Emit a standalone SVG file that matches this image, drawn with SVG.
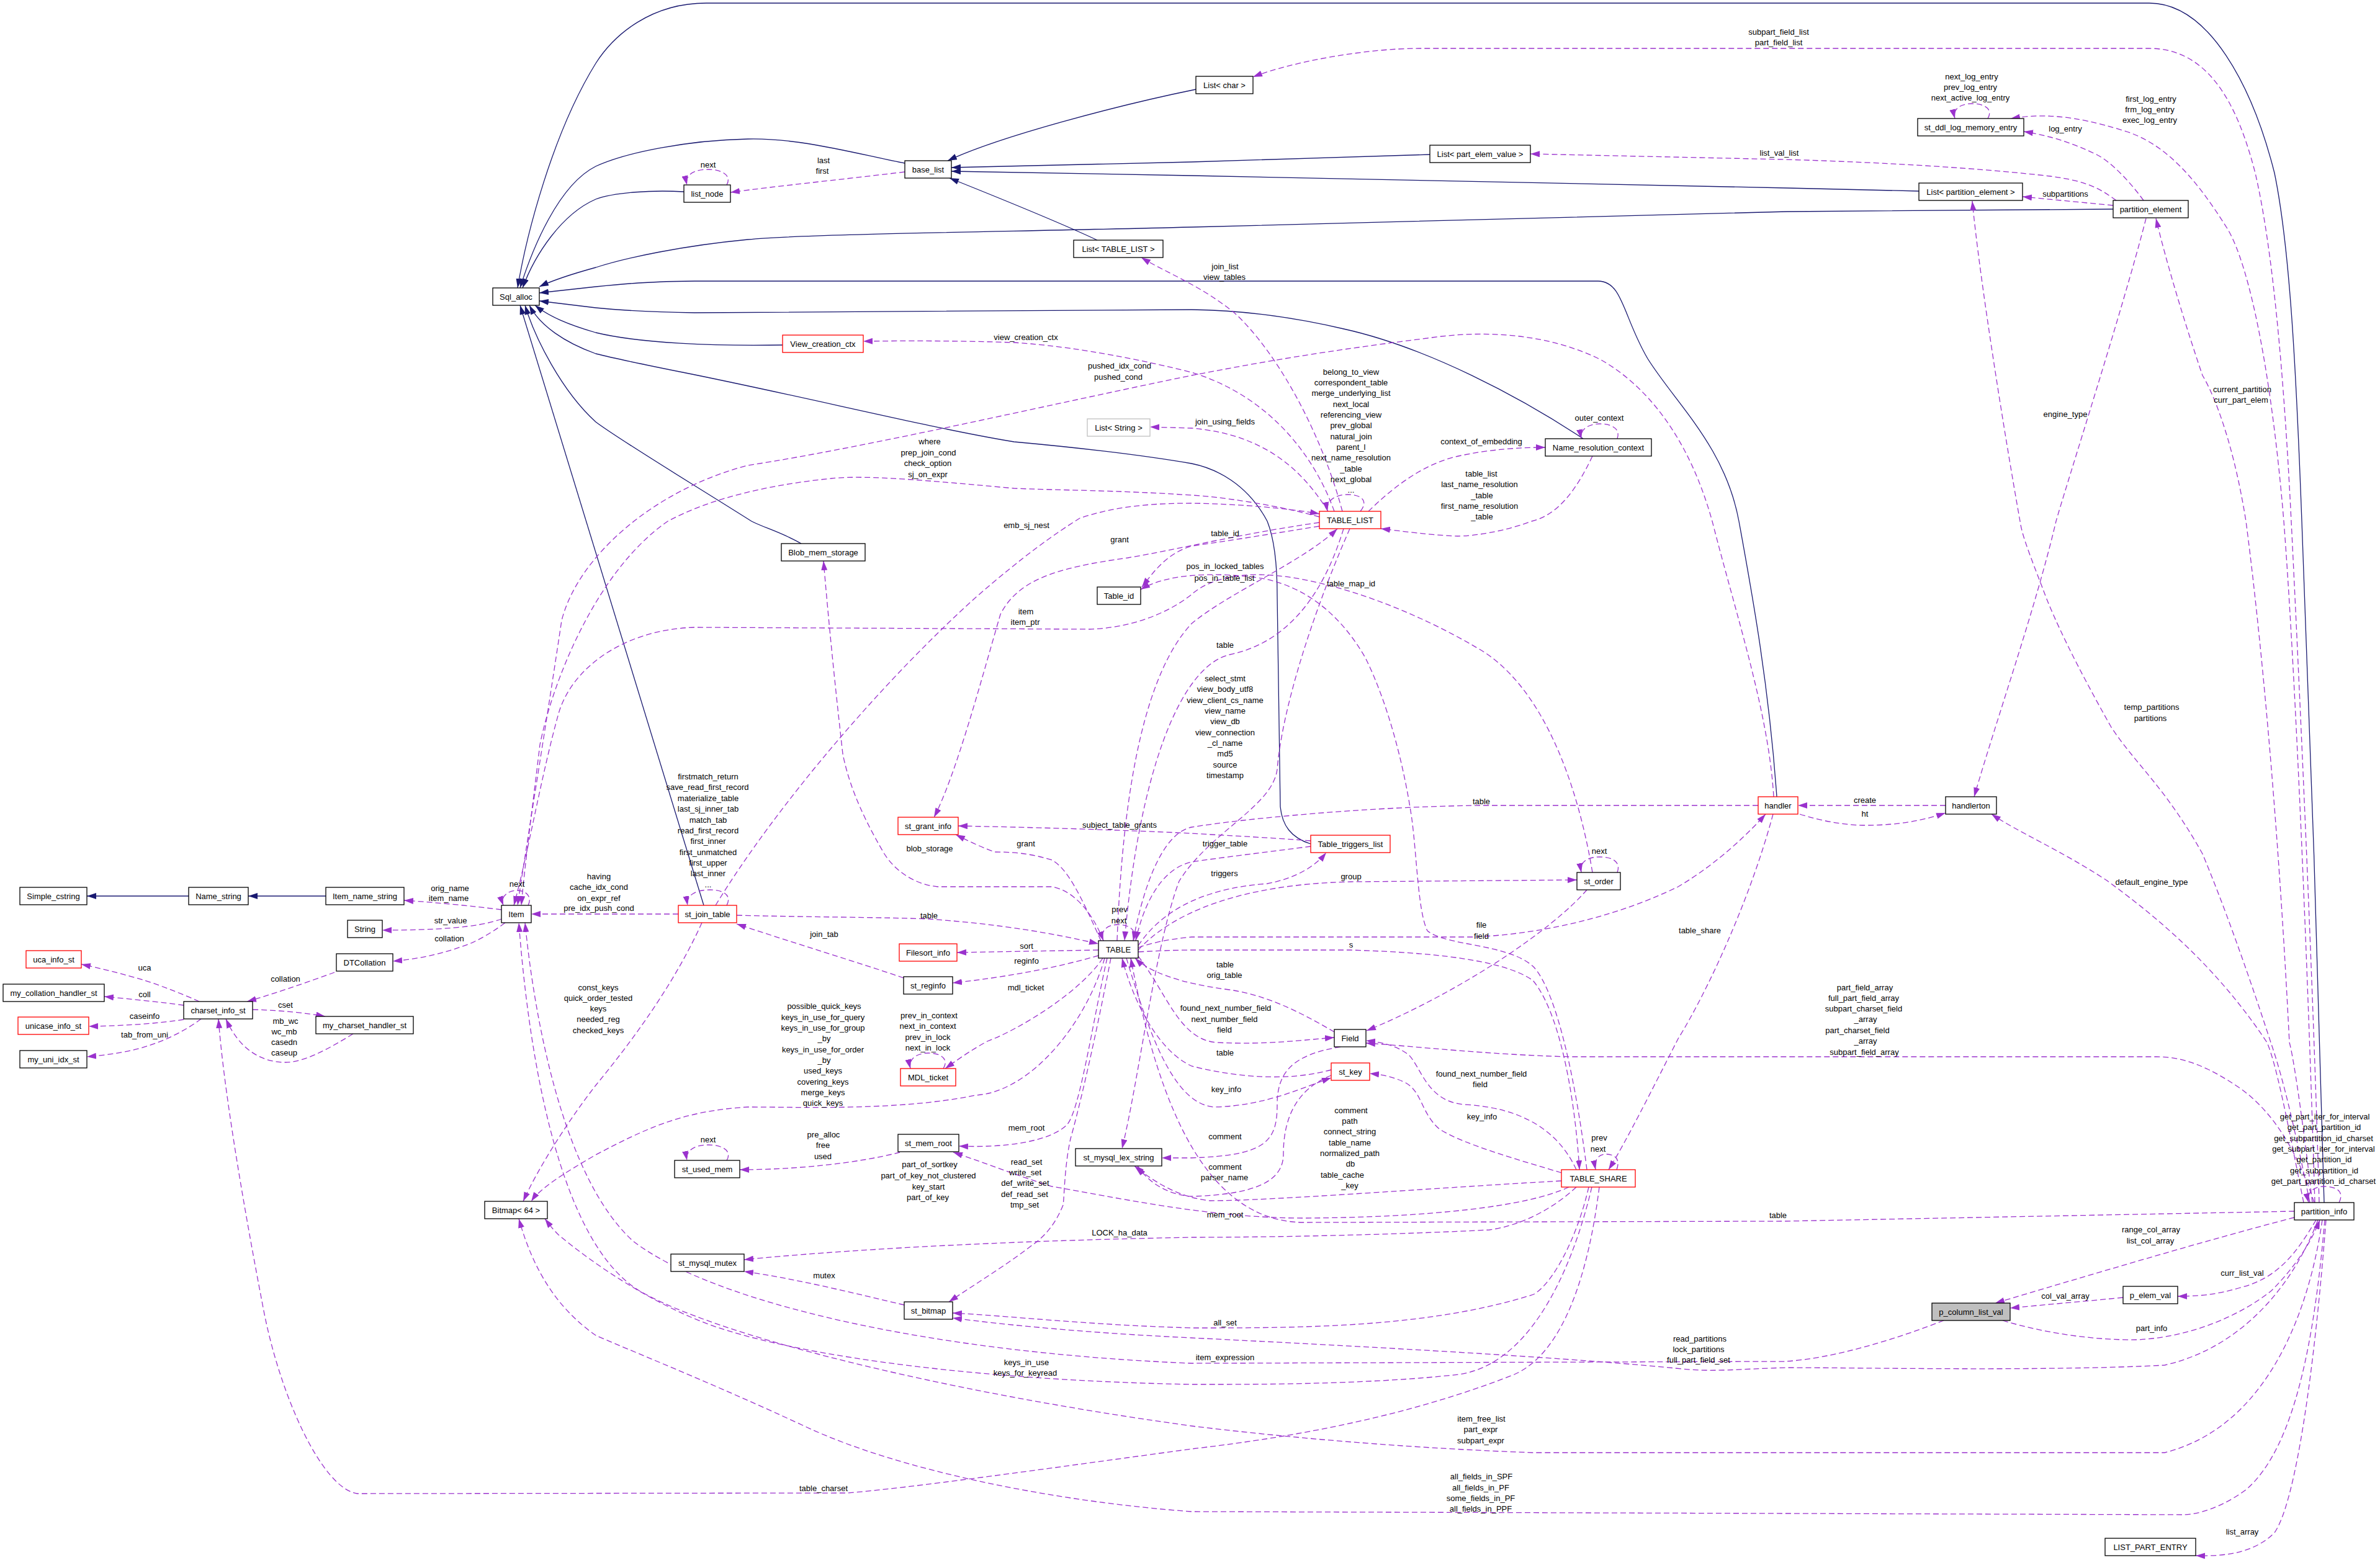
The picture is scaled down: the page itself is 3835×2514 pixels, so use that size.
<svg xmlns="http://www.w3.org/2000/svg" width="3835" height="2514" viewBox="0 0 3835 2514">
<style>
.n{fill:#fff;stroke:#000;stroke-width:1.3}
.r{fill:#fff;stroke:#ff0000;stroke-width:1.3}
.g{fill:#fff;stroke:#bfbfbf;stroke-width:1.3}
.f{fill:#bfbfbf;stroke:#000;stroke-width:1.3}
.t{font-family:"Liberation Sans",Arial,Helvetica,sans-serif;font-size:13px;text-anchor:middle;fill:#000}
.i{fill:none;stroke:#191970;stroke-width:1.3;marker-end:url(#ab)}
.c{fill:none;stroke:#9a32cd;stroke-width:1.3;stroke-dasharray:9,5;marker-end:url(#ap)}
</style>
<defs>
<marker id="ab" viewBox="0 0 15 10" refX="15" refY="5" markerWidth="15" markerHeight="10" markerUnits="userSpaceOnUse" orient="auto"><path d="M0,0L15,5L0,10z" fill="#191970"/></marker>
<marker id="ap" viewBox="0 0 15 10" refX="15" refY="5" markerWidth="15" markerHeight="10" markerUnits="userSpaceOnUse" orient="auto"><path d="M0,0L15,5L0,10z" fill="#9a32cd"/></marker>
</defs>
<rect width="3835" height="2514" fill="#fff"/>
<g id="connectors">
<path class="i" d="M3745,1938 C3740,1700 3720,1100 3709,840 C3700,600 3690,400 3665,279 C3630,140 3560,5 3463,5 L1138,5 C1050,5 990,55 960,102 C890,215 848,380 834,464"/>
<path class="i" d="M1458,263 C1380,248 1290,222 1205,224 C1110,226 1010,245 960,268 C900,298 858,400 838,464"/>
<path class="i" d="M1102,309 C1050,306 990,310 960,321 C905,345 862,410 842,464"/>
<path class="i" d="M3405,337 L2880,341 L1920,366 C1600,374 1300,377 1205,386 C1100,396 1010,415 960,431 C920,442 890,452 869,462"/>
<path class="i" d="M2863,1284 C2850,1100 2822,950 2802,840 C2780,720 2700,650 2655,578 C2615,510 2615,453 2575,453 L1119,453 C1050,453 1000,458 960,462 L869,472"/>
<path class="i" d="M2551,707 C2450,640 2300,560 2165,530 C2080,510 2000,500 1920,499 L1119,504 C1050,503 1000,500 960,496 L869,485"/>
<path class="i" d="M1261,556 C1150,558 1030,553 960,536 C915,523 885,510 862,492"/>
<path class="i" d="M2112,1360 C2080,1350 2066,1330 2063,1300 L2058,960 C2058,900 2052,865 2042,840 C2010,780 1960,755 1920,747 C1820,730 1700,718 1634,712 C1500,690 1300,640 1100,600 C1050,590 1000,580 960,570 C910,552 870,525 853,492"/>
<path class="i" d="M1291,876 C1260,858 1230,850 1211,840 C1100,770 1000,710 960,680 C905,630 862,545 846,492"/>
<path class="i" d="M1134,1459 L838,492"/>
<path class="i" d="M1927,144 C1800,170 1610,220 1527,259"/>
<path class="i" d="M2304,249 L1920,261 L1533,270"/>
<path class="i" d="M3092,308 L2880,303 L1920,283 L1533,276"/>
<path class="i" d="M1768,387 C1700,355 1600,315 1530,287"/>
<path class="i" d="M304,1444 L140,1444"/>
<path class="i" d="M525,1444 L400,1444"/>

<path class="c" d="M1458,277 C1350,290 1250,300 1177,310"/>
<path class="c" d="M1171,298 C1180,282 1162,273 1141,273 C1118,273 1103,282 1107,298"/>
<path class="c" d="M3737,1938 C3728,1600 3705,1100 3692,840 C3680,600 3662,400 3634,279 C3606,170 3560,78 3463,78 L2287,78 C2200,78 2080,100 2019,124"/>
<path class="c" d="M3410,323 C3385,305 3365,292 3304,284 C3200,272 3050,262 2875,257 L2466,248"/>
<path class="c" d="M3454,323 C3430,290 3400,260 3380,250 C3340,230 3300,218 3261,212"/>
<path class="c" d="M3405,331 L3259,317"/>
<path class="c" d="M3730,1938 C3720,1600 3700,1100 3680,840 C3660,600 3625,430 3590,370 C3540,290 3490,230 3420,210 C3340,185 3290,183 3240,191"/>
<path class="c" d="M3722,1938 C3700,1830 3680,1740 3659,1680 C3620,1560 3580,1450 3549,1376 C3490,1270 3440,1230 3402,1172 C3350,1080 3310,1000 3291,947 C3265,880 3258,860 3255,840 C3230,700 3190,450 3178,324"/>
<path class="c" d="M3726,1938 C3710,1800 3695,1700 3689,1680 C3670,1300 3640,1000 3619,840 C3600,720 3570,640 3549,605 C3520,520 3490,420 3474,352"/>
<path class="c" d="M3458,352 C3420,500 3330,780 3313,840 C3280,980 3220,1150 3181,1284"/>
<path class="c" d="M3712,1938 C3690,1830 3670,1720 3653,1680 C3560,1540 3450,1460 3395,1419 C3320,1370 3250,1340 3209,1312"/>
<path class="c" d="M3135,1298 L2897,1298"/>
<path class="c" d="M2900,1312 C2940,1325 2980,1330 3005,1330 C3060,1330 3100,1322 3135,1310"/>
<path class="c" d="M2833,1298 L2385,1298 C2200,1300 2000,1320 1920,1333 C1870,1343 1840,1440 1826,1516"/>
<path class="c" d="M2857,1312 C2820,1450 2750,1600 2704,1674 C2660,1760 2620,1840 2592,1885"/>
<path class="c" d="M1834,1527 C1870,1515 1900,1512 1920,1510 L2373,1510 C2500,1505 2620,1470 2704,1429 C2770,1390 2820,1340 2845,1312"/>
<path class="c" d="M2557,1434 C2500,1500 2350,1600 2202,1661"/>
<path class="c" d="M1834,1531 C1890,1470 2000,1425 2177,1421 L2541,1418"/>
<path class="c" d="M2606,1406 C2612,1390 2600,1381 2578,1381 C2556,1381 2545,1390 2548,1406"/>
<path class="c" d="M2566,1406 C2540,1250 2480,1100 2380,1044 C2280,985 2150,935 2050,927 C1980,922 1940,940 1920,958 C1880,990 1820,1012 1756,1014 L1119,1011 C1000,1015 920,1080 900,1150 C872,1250 850,1380 828,1459"/>
<path class="c" d="M1834,1524 C1880,1455 1960,1430 2042,1424 C2090,1415 2120,1395 2137,1374"/>
<path class="c" d="M2112,1364 C2050,1372 1960,1383 1920,1389 C1870,1400 1842,1460 1830,1516"/>
<path class="c" d="M2112,1355 C2050,1350 1950,1345 1920,1343 C1800,1337 1650,1333 1544,1331"/>
<path class="c" d="M2175,852 C2110,1000 2065,1150 2058,1240 C2050,1300 1950,1340 1900,1420 C1862,1520 1835,1740 1808,1851"/>
<path class="c" d="M2165,852 C2135,950 2080,1035 1981,1055 C1900,1075 1835,1250 1812,1516"/>
<path class="c" d="M1800,1516 C1810,1250 1850,1080 1920,1005 C1980,955 2100,905 2155,852"/>
<path class="c" d="M2126,848 C2050,860 1990,870 1920,880 C1880,892 1860,920 1840,946"/>
<path class="c" d="M2557,1885 C2540,1750 2510,1600 2471,1558 C2430,1520 2330,1525 2300,1500 C2285,1470 2283,1380 2275,1320 C2262,1230 2235,1130 2200,1060 C2160,990 2100,940 2020,930 C1950,922 1880,925 1838,950"/>
<path class="c" d="M2163,824 C2130,700 2060,570 1990,505 C1935,460 1880,440 1839,415"/>
<path class="c" d="M2566,735 C2540,790 2510,830 2468,840 C2420,858 2370,864 2349,864 C2300,862 2260,856 2225,852"/>
<path class="c" d="M2205,824 C2240,790 2290,748 2350,735 C2400,724 2450,721 2490,721"/>
<path class="c" d="M2606,707 C2612,690 2595,683 2578,683 C2560,683 2545,692 2548,707"/>
<path class="c" d="M2192,824 C2205,808 2195,797 2172,797 C2150,797 2136,808 2139,824"/>
<path class="c" d="M2140,824 C2100,760 2040,700 1920,690 L1853,688"/>
<path class="c" d="M2150,824 C2120,740 2050,640 1920,600 C1800,570 1700,556 1634,552 C1550,549 1450,549 1391,550"/>
<path class="c" d="M2126,833 C2050,812 1960,800 1920,798 C1800,790 1700,790 1634,787 C1500,775 1400,765 1340,771 C1250,780 1150,800 1076,840 C960,920 890,1100 870,1200 C858,1300 845,1400 840,1459"/>
<path class="c" d="M2858,1284 C2850,1150 2800,1000 2759,840 C2720,700 2650,620 2580,580 C2500,540 2400,530 2300,545 C2100,570 2000,590 1920,605 C1700,650 1400,720 1205,750 C1050,790 930,900 905,1000 C875,1200 850,1350 834,1459"/>
<path class="c" d="M2126,842 C2000,860 1900,885 1817,899 C1700,915 1640,935 1612,990 C1580,1100 1540,1250 1505,1317"/>
<path class="c" d="M1153,1459 C1250,1300 1420,1100 1572,963 C1650,895 1700,860 1740,835 C1800,815 1860,811 1920,811 C2000,812 2080,820 2126,828"/>
<path class="c" d="M1774,1516 C1740,1440 1720,1400 1695,1386 C1660,1375 1630,1373 1603,1373 C1580,1365 1560,1355 1540,1345"/>
<path class="c" d="M1778,1516 C1760,1470 1730,1435 1695,1429 C1640,1429 1560,1429 1511,1429 C1470,1425 1440,1400 1425,1376 C1380,1300 1365,1250 1358,1215 C1345,1100 1335,1000 1327,904"/>
<path class="c" d="M1187,1475 C1300,1478 1420,1478 1497,1481 C1620,1490 1700,1505 1770,1521"/>
<path class="c" d="M1456,1576 C1380,1550 1280,1520 1187,1489"/>
<path class="c" d="M1770,1540 C1700,1560 1620,1575 1535,1584"/>
<path class="c" d="M1770,1531 L1542,1535"/>
<path class="c" d="M1826,1516 C1834,1500 1820,1490 1802,1490 C1784,1490 1772,1500 1778,1516"/>
<path class="c" d="M1777,1544 C1740,1600 1640,1660 1591,1678 C1560,1695 1540,1710 1523,1722"/>
<path class="c" d="M1520,1722 C1530,1706 1515,1697 1496,1697 C1478,1697 1463,1706 1467,1722"/>
<path class="c" d="M1780,1544 C1750,1650 1660,1760 1572,1765 C1450,1790 1300,1784 1205,1784 C1100,1790 1040,1819 960,1861 C910,1890 870,1915 856,1936"/>
<path class="c" d="M1131,1487 C1080,1600 1000,1700 960,1749 C920,1800 868,1880 843,1936"/>
<path class="c" d="M1784,1544 C1760,1650 1740,1790 1719,1813 C1690,1840 1620,1850 1545,1847"/>
<path class="c" d="M1450,1857 C1380,1875 1280,1885 1192,1885"/>
<path class="c" d="M1171,1870 C1180,1855 1165,1845 1141,1845 C1118,1845 1104,1855 1107,1870"/>
<path class="c" d="M2528,1913 C2460,1945 2300,1962 2100,1963 C1950,1963 1800,1930 1695,1912 C1640,1895 1590,1875 1536,1857"/>
<path class="c" d="M1790,1544 C1760,1700 1735,1800 1725,1835 C1715,1880 1715,1930 1713,1942 C1700,1975 1680,1995 1664,2006 C1620,2040 1570,2070 1529,2098"/>
<path class="c" d="M1457,2103 C1380,2085 1280,2060 1199,2049"/>
<path class="c" d="M2540,1913 C2500,1950 2450,1975 2400,1982 C2200,1992 2000,1994 1920,1994 C1600,2000 1350,2015 1199,2030"/>
<path class="c" d="M2560,1913 C2540,2000 2500,2070 2471,2086 C2300,2140 2100,2140 1920,2140 C1750,2135 1620,2120 1535,2116"/>
<path class="c" d="M3735,1966 C3700,2060 3620,2170 3488,2200 C3300,2210 3000,2204 2880,2204 C2800,2206 2760,2212 2700,2205 C2500,2185 2100,2165 1920,2156 C1750,2148 1620,2135 1535,2124"/>
<path class="c" d="M2565,1913 C2530,2060 2460,2200 2350,2215 C2200,2232 2000,2231 1920,2231 C1600,2225 1300,2190 1144,2135 C1050,2100 960,2040 900,1990 C890,1980 884,1972 878,1964"/>
<path class="c" d="M3742,1966 C3720,2120 3650,2300 3488,2341 L2471,2341 C2300,2335 2100,2320 1920,2298 C1500,2240 1150,2150 1030,2080 C900,2000 852,1700 836,1487"/>
<path class="c" d="M3132,2128 C3050,2160 2950,2190 2875,2194 L1920,2197 C1500,2180 1150,2100 1020,2000 C910,1900 862,1650 846,1487"/>
<path class="c" d="M3746,1966 C3730,2150 3700,2330 3620,2400 C3580,2430 3540,2441 3518,2441 L1920,2436 C1700,2420 1450,2370 1300,2300 C1150,2230 1000,2170 960,2152 C900,2110 860,2050 836,1964"/>
<path class="c" d="M2577,1913 C2560,2050 2520,2180 2440,2215 C2250,2290 2050,2320 1920,2335 C1700,2365 1450,2400 1364,2406 L576,2407 C520,2400 450,2250 423,2102 C390,1930 360,1750 352,1642"/>
<path class="c" d="M1834,1534 C1870,1532 1900,1531 1920,1531 L2177,1531 C2300,1535 2420,1545 2470,1580 C2520,1640 2540,1800 2545,1885"/>
<path class="c" d="M2605,1885 C2612,1866 2600,1860 2588,1860 C2575,1860 2568,1870 2571,1885"/>
<path class="c" d="M2540,1885 C2510,1820 2450,1785 2360,1780 C2300,1776 2290,1720 2270,1700 C2250,1685 2230,1680 2201,1677"/>
<path class="c" d="M2516,1890 C2450,1870 2360,1845 2320,1820 C2290,1795 2292,1760 2265,1745 C2245,1735 2228,1732 2207,1730"/>
<path class="c" d="M2516,1903 C2300,1915 2050,1935 1950,1935 C1900,1930 1860,1905 1828,1879"/>
<path class="c" d="M2160,1687 C2080,1700 2058,1730 2058,1780 C2058,1840 2040,1862 1920,1866 L1872,1866"/>
<path class="c" d="M2145,1733 C2090,1755 2068,1800 2068,1860 C2068,1905 2020,1925 1920,1928 C1880,1925 1850,1905 1833,1879"/>
<path class="c" d="M1834,1541 C1880,1600 1900,1675 1960,1680 C2040,1684 2100,1676 2150,1672"/>
<path class="c" d="M2150,1663 C2110,1640 2050,1605 1981,1595 C1900,1585 1850,1565 1829,1544"/>
<path class="c" d="M1815,1544 C1850,1660 1890,1780 1957,1784 C2040,1782 2100,1752 2145,1737"/>
<path class="c" d="M2145,1724 C2080,1742 2000,1738 1920,1718 C1860,1690 1822,1600 1808,1544"/>
<path class="c" d="M3697,1952 L2875,1968 L2100,1970 C1950,1968 1870,1800 1822,1544"/>
<path class="c" d="M3729,1938 C3700,1850 3660,1790 3610,1754 C3560,1720 3520,1703 3475,1703 L2532,1703 C2400,1700 2280,1686 2201,1681"/>
<path class="c" d="M3769,1938 C3778,1920 3765,1912 3745,1912 C3728,1912 3716,1922 3720,1938"/>
<path class="c" d="M3697,1962 C3550,2000 3350,2060 3215,2100"/>
<path class="c" d="M3732,1966 C3700,2020 3670,2060 3610,2075 C3570,2087 3540,2089 3509,2089"/>
<path class="c" d="M3421,2091 C3350,2098 3290,2103 3239,2108"/>
<path class="c" d="M3227,2128 C3300,2150 3380,2160 3444,2159 C3530,2155 3610,2120 3660,2080 C3700,2040 3725,2000 3738,1966"/>
<path class="c" d="M3748,1966 C3730,2200 3700,2420 3665,2470 C3630,2505 3580,2508 3538,2507"/>
<path class="c" d="M808,1466 C760,1460 700,1454 651,1451"/>
<path class="c" d="M808,1481 C770,1495 700,1499 616,1499"/>
<path class="c" d="M814,1487 C790,1505 770,1515 759,1520 C720,1535 680,1545 633,1549"/>
<path class="c" d="M539,1567 C490,1585 430,1605 398,1614"/>
<path class="c" d="M321,1614 C290,1600 250,1585 233,1580 C200,1570 160,1560 131,1554"/>
<path class="c" d="M296,1620 C260,1615 210,1610 168,1606"/>
<path class="c" d="M296,1643 C250,1650 200,1653 143,1654"/>
<path class="c" d="M324,1642 C300,1660 270,1675 240,1685 C210,1695 175,1700 140,1703"/>
<path class="c" d="M407,1627 C450,1628 490,1632 524,1638"/>
<path class="c" d="M569,1666 C530,1690 490,1712 460,1712 C420,1712 385,1690 364,1642"/>
<path class="c" d="M851,1459 C858,1445 848,1435 833,1435 C818,1435 806,1445 811,1459"/>
<path class="c" d="M1093,1473 L856,1473"/>
<path class="c" d="M1171,1459 C1180,1442 1165,1434 1144,1434 C1122,1434 1105,1442 1108,1459"/>
<path class="c" d="M3203,191 C3212,176 3198,167 3178,167 C3158,167 3146,176 3150,191"/>
</g>
<g id="edge-labels" class="t">
<text x="1141" y="270">next</text>
<text x="1327" y="263">last</text><text x="1325" y="280">first</text>
<text x="2866" y="56">subpart_field_list</text><text x="2866" y="73">part_field_list</text>
<text x="2867" y="251">list_val_list</text>
<text x="3177" y="128">next_log_entry</text><text x="3175" y="145">prev_log_entry</text><text x="3175" y="162">next_active_log_entry</text>
<text x="3466" y="164">first_log_entry</text><text x="3464" y="181">frm_log_entry</text><text x="3464" y="198">exec_log_entry</text>
<text x="3328" y="212">log_entry</text>
<text x="3328" y="317">subpartitions</text>
<text x="3613" y="632">current_partition</text><text x="3611" y="649">curr_part_elem</text>
<text x="3328" y="672">engine_type</text>
<text x="1653" y="548">view_creation_ctx</text>
<text x="1804" y="594">pushed_idx_cond</text><text x="1802" y="612">pushed_cond</text>
<text x="1498" y="716">where</text><text x="1496" y="734">prep_join_cond</text><text x="1495" y="751">check_option</text><text x="1495" y="769">sj_on_expr</text>
<text x="1974" y="434">join_list</text><text x="1973" y="451">view_tables</text>
<text x="2177" y="604">belong_to_view</text><text x="2177" y="621">correspondent_table</text><text x="2177" y="638">merge_underlying_list</text><text x="2177" y="656">next_local</text><text x="2177" y="673">referencing_view</text><text x="2177" y="690">prev_global</text><text x="2177" y="708">natural_join</text><text x="2177" y="725">parent_l</text><text x="2177" y="742">next_name_resolution</text><text x="2177" y="760">_table</text><text x="2177" y="777">next_global</text><text x="2177" y="794">...</text>
<text x="1974" y="684">join_using_fields</text>
<text x="2577" y="678">outer_context</text>
<text x="2387" y="716">context_of_embedding</text>
<text x="2387" y="768">table_list</text><text x="2384" y="785">last_name_resolution</text><text x="2388" y="803">_table</text><text x="2384" y="820">first_name_resolution</text><text x="2388" y="837">_table</text>
<text x="725" y="1436">orig_name</text><text x="723" y="1452">item_name</text>
<text x="833" y="1429">next</text>
<text x="726" y="1488">str_value</text><text x="724" y="1517">collation</text>
<text x="233" y="1564">uca</text><text x="460" y="1582">collation</text><text x="233" y="1607">coll</text><text x="460" y="1624">cset</text><text x="233" y="1642">caseinfo</text><text x="460" y="1650">mb_wc</text><text x="233" y="1672">tab_from_uni</text><text x="458" y="1667">wc_mb</text><text x="458" y="1684">casedn</text><text x="458" y="1701">caseup</text>
<text x="965" y="1417">having</text><text x="965" y="1434">cache_idx_cond</text><text x="965" y="1452">on_expr_ref</text><text x="965" y="1468">pre_idx_push_cond</text>
<text x="964" y="1596">const_keys</text><text x="964" y="1613">quick_order_tested</text><text x="964" y="1630">keys</text><text x="964" y="1647">needed_reg</text><text x="964" y="1665">checked_keys</text>
<text x="1654" y="851">emb_sj_nest</text>
<text x="1804" y="874">grant</text>
<text x="1653" y="990">item</text><text x="1652" y="1007">item_ptr</text>
<text x="1141" y="1256">firstmatch_return</text><text x="1140" y="1273">save_read_first_record</text><text x="1141" y="1291">materialize_table</text><text x="1141" y="1308">last_sj_inner_tab</text><text x="1141" y="1326">match_tab</text><text x="1141" y="1343">read_first_record</text><text x="1141" y="1360">first_inner</text><text x="1141" y="1378">first_unmatched</text><text x="1141" y="1395">first_upper</text><text x="1141" y="1412">last_inner</text><text x="1141" y="1430">...</text>
<text x="1804" y="1334">subject_table_grants</text>
<text x="1498" y="1372">blob_storage</text>
<text x="1653" y="1364">grant</text>
<text x="1497" y="1480">table</text>
<text x="1804" y="1470">prev</text><text x="1803" y="1488">next</text>
<text x="1328" y="1510">join_tab</text>
<text x="1654" y="1529">sort</text>
<text x="1654" y="1553">reginfo</text>
<text x="1653" y="1596">mdl_ticket</text>
<text x="1328" y="1626">possible_quick_keys</text><text x="1326" y="1644">keys_in_use_for_query</text><text x="1326" y="1661">keys_in_use_for_group</text><text x="1328" y="1678">_by</text><text x="1326" y="1696">keys_in_use_for_order</text><text x="1328" y="1713">_by</text><text x="1326" y="1730">used_keys</text><text x="1326" y="1748">covering_keys</text><text x="1326" y="1765">merge_keys</text><text x="1326" y="1782">quick_keys</text>
<text x="1497" y="1641">prev_in_context</text><text x="1495" y="1658">next_in_context</text><text x="1495" y="1676">prev_in_lock</text><text x="1495" y="1693">next_in_lock</text>
<text x="1974" y="864">table_id</text>
<text x="1974" y="917">pos_in_locked_tables</text><text x="1973" y="936">pos_in_table_list</text>
<text x="2177" y="945">table_map_id</text>
<text x="1974" y="1044">table</text>
<text x="1974" y="1098">select_stmt</text><text x="1974" y="1115">view_body_utf8</text><text x="1974" y="1133">view_client_cs_name</text><text x="1974" y="1150">view_name</text><text x="1974" y="1167">view_db</text><text x="1974" y="1185">view_connection</text><text x="1974" y="1202">_cl_name</text><text x="1974" y="1219">md5</text><text x="1974" y="1237">source</text><text x="1974" y="1254">timestamp</text>
<text x="2387" y="1296">table</text>
<text x="1974" y="1364">trigger_table</text>
<text x="2577" y="1376">next</text>
<text x="1973" y="1412">triggers</text>
<text x="2177" y="1417">group</text>
<text x="2387" y="1495">file</text><text x="2387" y="1513">field</text>
<text x="2177" y="1527">s</text>
<text x="2739" y="1504">table_share</text>
<text x="1974" y="1559">table</text><text x="1973" y="1576">orig_table</text>
<text x="1975" y="1629">found_next_number_field</text><text x="1973" y="1647">next_number_field</text><text x="1973" y="1664">field</text>
<text x="3467" y="1144">temp_partitions</text><text x="3465" y="1162">partitions</text>
<text x="3005" y="1294">create</text><text x="3005" y="1316">ht</text>
<text x="3467" y="1426">default_engine_type</text>
<text x="3005" y="1596">part_field_array</text><text x="3003" y="1613">full_part_field_array</text><text x="3003" y="1630">subpart_charset_field</text><text x="3006" y="1647">_array</text><text x="2993" y="1665">part_charset_field</text><text x="3006" y="1682">_array</text><text x="3004" y="1700">subpart_field_array</text>
<text x="1141" y="1841">next</text>
<text x="1327" y="1833">pre_alloc</text><text x="1326" y="1850">free</text><text x="1326" y="1868">used</text>
<text x="1654" y="1822">mem_root</text>
<text x="1498" y="1881">part_of_sortkey</text><text x="1496" y="1899">part_of_key_not_clustered</text><text x="1496" y="1917">key_start</text><text x="1495" y="1934">part_of_key</text>
<text x="1654" y="1877">read_set</text><text x="1652" y="1894">write_set</text><text x="1652" y="1911">def_write_set</text><text x="1651" y="1929">def_read_set</text><text x="1651" y="1946">tmp_set</text>
<text x="1804" y="1991">LOCK_ha_data</text>
<text x="1328" y="2060">mutex</text>
<text x="1654" y="2200">keys_in_use</text><text x="1652" y="2217">keys_for_keyread</text>
<text x="1327" y="2403">table_charset</text>
<text x="1974" y="1701">table</text>
<text x="1976" y="1760">key_info</text>
<text x="1974" y="1836">comment</text>
<text x="1974" y="1885">comment</text><text x="1973" y="1902">parser_name</text>
<text x="2177" y="1794">comment</text><text x="2175" y="1811">path</text><text x="2175" y="1828">connect_string</text><text x="2175" y="1846">table_name</text><text x="2175" y="1863">normalized_path</text><text x="2176" y="1880">db</text><text x="2163" y="1898">table_cache</text><text x="2175" y="1915">_key</text>
<text x="2387" y="1735">found_next_number_field</text><text x="2385" y="1752">field</text>
<text x="2388" y="1804">key_info</text>
<text x="2577" y="1838">prev</text><text x="2575" y="1856">next</text>
<text x="1974" y="1962">mem_root</text>
<text x="2865" y="1963">table</text>
<text x="1974" y="2136">all_set</text>
<text x="1974" y="2192">item_expression</text>
<text x="2739" y="2162">read_partitions</text><text x="2737" y="2179">lock_partitions</text><text x="2737" y="2196">full_part_field_set</text>
<text x="2387" y="2291">item_free_list</text><text x="2386" y="2308">part_expr</text><text x="2386" y="2326">subpart_expr</text>
<text x="2387" y="2384">all_fields_in_SPF</text><text x="2386" y="2402">all_fields_in_PF</text><text x="2386" y="2419">some_fields_in_PF</text><text x="2386" y="2436">all_fields_in_PPF</text>
<text x="3746" y="1804">get_part_iter_for_interval</text><text x="3745" y="1821">get_part_partition_id</text><text x="3744" y="1839">get_subpartition_id_charset</text><text x="3744" y="1856">get_subpart_iter_for_interval</text><text x="3745" y="1873">get_partition_id</text><text x="3745" y="1891">get_subpartition_id</text><text x="3744" y="1908">get_part_partition_id_charset</text>
<text x="3466" y="1986">range_col_array</text><text x="3465" y="2004">list_col_array</text>
<text x="3613" y="2056">curr_list_val</text>
<text x="3328" y="2093">col_val_array</text>
<text x="3467" y="2145">part_info</text>
<text x="3613" y="2473">list_array</text>
</g>
<g id="node-Sql_alloc"><rect class="n" x="794" y="464" width="75" height="28"/><text class="t" x="831.5" y="482.5">Sql_alloc</text></g>
<g id="node-base_list"><rect class="n" x="1458" y="259" width="75" height="28"/><text class="t" x="1495.5" y="277.5">base_list</text></g>
<g id="node-list_node"><rect class="n" x="1102" y="298" width="75" height="28"/><text class="t" x="1139.5" y="316.5">list_node</text></g>
<g id="node-List_TABLE_LIST"><rect class="n" x="1730" y="387" width="144" height="28"/><text class="t" x="1802" y="405.5">List&lt; TABLE_LIST &gt;</text></g>
<g id="node-View_creation_ctx"><rect class="r" x="1261" y="540" width="130" height="28"/><text class="t" x="1326" y="558.5">View_creation_ctx</text></g>
<g id="node-List_String"><rect class="g" x="1752" y="675" width="101" height="28"/><text class="t" x="1802.5" y="693.5">List&lt; String &gt;</text></g>
<g id="node-List_char"><rect class="n" x="1927" y="123" width="92" height="28"/><text class="t" x="1973" y="141.5">List&lt; char &gt;</text></g>
<g id="node-List_part_elem_value"><rect class="n" x="2304" y="234" width="162" height="28"/><text class="t" x="2385" y="252.5">List&lt; part_elem_value &gt;</text></g>
<g id="node-Name_resolution_context"><rect class="n" x="2490" y="707" width="171" height="28"/><text class="t" x="2575.5" y="725.5">Name_resolution_context</text></g>
<g id="node-TABLE_LIST"><rect class="r" x="2126" y="824" width="99" height="28"/><text class="t" x="2175.5" y="842.5">TABLE_LIST</text></g>
<g id="node-st_ddl_log_memory_entry"><rect class="n" x="3090" y="191" width="171" height="28"/><text class="t" x="3175.5" y="209.5">st_ddl_log_memory_entry</text></g>
<g id="node-List_partition_element"><rect class="n" x="3092" y="295" width="167" height="28"/><text class="t" x="3175.5" y="313.5">List&lt; partition_element &gt;</text></g>
<g id="node-partition_element"><rect class="n" x="3405" y="323" width="121" height="28"/><text class="t" x="3465.5" y="341.5">partition_element</text></g>
<g id="node-Simple_cstring"><rect class="n" x="32" y="1430" width="108" height="28"/><text class="t" x="86" y="1448.5">Simple_cstring</text></g>
<g id="node-Name_string"><rect class="n" x="304" y="1430" width="96" height="28"/><text class="t" x="352" y="1448.5">Name_string</text></g>
<g id="node-Item_name_string"><rect class="n" x="525" y="1430" width="126" height="28"/><text class="t" x="588" y="1448.5">Item_name_string</text></g>
<g id="node-Item"><rect class="n" x="808" y="1459" width="48" height="28"/><text class="t" x="832" y="1477.5">Item</text></g>
<g id="node-String"><rect class="n" x="560" y="1483" width="56" height="28"/><text class="t" x="588" y="1501.5">String</text></g>
<g id="node-DTCollation"><rect class="n" x="542" y="1537" width="91" height="28"/><text class="t" x="587.5" y="1555.5">DTCollation</text></g>
<g id="node-uca_info_st"><rect class="r" x="42" y="1532" width="89" height="28"/><text class="t" x="86.5" y="1550.5">uca_info_st</text></g>
<g id="node-my_collation_handler_st"><rect class="n" x="5" y="1586" width="163" height="28"/><text class="t" x="86.5" y="1604.5">my_collation_handler_st</text></g>
<g id="node-charset_info_st"><rect class="n" x="296" y="1614" width="111" height="28"/><text class="t" x="351.5" y="1632.5">charset_info_st</text></g>
<g id="node-unicase_info_st"><rect class="r" x="29" y="1639" width="114" height="28"/><text class="t" x="86" y="1657.5">unicase_info_st</text></g>
<g id="node-my_charset_handler_st"><rect class="n" x="509" y="1638" width="157" height="28"/><text class="t" x="587.5" y="1656.5">my_charset_handler_st</text></g>
<g id="node-my_uni_idx_st"><rect class="n" x="32" y="1693" width="108" height="28"/><text class="t" x="86" y="1711.5">my_uni_idx_st</text></g>
<g id="node-Blob_mem_storage"><rect class="n" x="1259" y="876" width="135" height="28"/><text class="t" x="1326.5" y="894.5">Blob_mem_storage</text></g>
<g id="node-Table_id"><rect class="n" x="1768" y="946" width="70" height="28"/><text class="t" x="1803" y="964.5">Table_id</text></g>
<g id="node-st_grant_info"><rect class="r" x="1447" y="1317" width="97" height="28"/><text class="t" x="1495.5" y="1335.5">st_grant_info</text></g>
<g id="node-st_join_table"><rect class="r" x="1093" y="1459" width="94" height="28"/><text class="t" x="1140" y="1477.5">st_join_table</text></g>
<g id="node-Filesort_info"><rect class="r" x="1449" y="1521" width="93" height="28"/><text class="t" x="1495.5" y="1539.5">Filesort_info</text></g>
<g id="node-st_reginfo"><rect class="n" x="1456" y="1574" width="79" height="28"/><text class="t" x="1495.5" y="1592.5">st_reginfo</text></g>
<g id="node-TABLE"><rect class="n" x="1770" y="1516" width="64" height="28"/><text class="t" x="1802" y="1534.5">TABLE</text></g>
<g id="node-Table_triggers_list"><rect class="r" x="2112" y="1346" width="128" height="28"/><text class="t" x="2176" y="1364.5">Table_triggers_list</text></g>
<g id="node-st_order"><rect class="n" x="2541" y="1406" width="70" height="28"/><text class="t" x="2576" y="1424.5">st_order</text></g>
<g id="node-handler"><rect class="r" x="2833" y="1284" width="64" height="28"/><text class="t" x="2865" y="1302.5">handler</text></g>
<g id="node-handlerton"><rect class="n" x="3135" y="1284" width="82" height="28"/><text class="t" x="3176" y="1302.5">handlerton</text></g>
<g id="node-Field"><rect class="n" x="2150" y="1659" width="51" height="28"/><text class="t" x="2175.5" y="1677.5">Field</text></g>
<g id="node-Bitmap64"><rect class="n" x="781" y="1936" width="101" height="28"/><text class="t" x="831.5" y="1954.5">Bitmap&lt; 64 &gt;</text></g>
<g id="node-MDL_ticket"><rect class="r" x="1451" y="1722" width="89" height="28"/><text class="t" x="1495.5" y="1740.5">MDL_ticket</text></g>
<g id="node-st_used_mem"><rect class="n" x="1087" y="1870" width="105" height="28"/><text class="t" x="1139.5" y="1888.5">st_used_mem</text></g>
<g id="node-st_mem_root"><rect class="n" x="1447" y="1828" width="98" height="28"/><text class="t" x="1496" y="1846.5">st_mem_root</text></g>
<g id="node-st_mysql_lex_string"><rect class="n" x="1733" y="1851" width="139" height="28"/><text class="t" x="1802.5" y="1869.5">st_mysql_lex_string</text></g>
<g id="node-st_mysql_mutex"><rect class="n" x="1081" y="2021" width="118" height="28"/><text class="t" x="1140" y="2039.5">st_mysql_mutex</text></g>
<g id="node-st_bitmap"><rect class="n" x="1457" y="2098" width="78" height="28"/><text class="t" x="1496" y="2116.5">st_bitmap</text></g>
<g id="node-st_key"><rect class="r" x="2145" y="1713" width="62" height="28"/><text class="t" x="2176" y="1731.5">st_key</text></g>
<g id="node-TABLE_SHARE"><rect class="r" x="2516" y="1885" width="119" height="28"/><text class="t" x="2575.5" y="1903.5">TABLE_SHARE</text></g>
<g id="node-partition_info"><rect class="n" x="3697" y="1938" width="96" height="28"/><text class="t" x="3745" y="1956.5">partition_info</text></g>
<g id="node-p_column_list_val"><rect class="f" x="3113" y="2100" width="126" height="28"/><text class="t" x="3176" y="2118.5">p_column_list_val</text></g>
<g id="node-p_elem_val"><rect class="n" x="3421" y="2073" width="88" height="28"/><text class="t" x="3465" y="2091.5">p_elem_val</text></g>
<g id="node-LIST_PART_ENTRY"><rect class="n" x="3392" y="2479" width="146" height="28"/><text class="t" x="3465" y="2497.5">LIST_PART_ENTRY</text></g>
</svg>
